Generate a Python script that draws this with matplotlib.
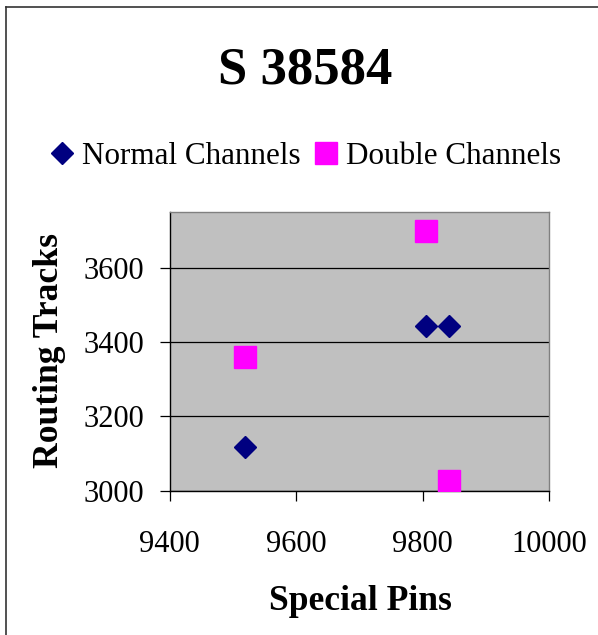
import matplotlib

matplotlib.use("Agg")

import matplotlib.pyplot as plt
from matplotlib.lines import Line2D

# данные
normal_x = [9520, 9805, 9842]
normal_y = [3117, 3444, 3444]
double_x = [9520, 9805, 9842]
double_y = [3361, 3698, 3026]

x_ticks = [9400, 9600, 9800, 10000]
y_ticks = [3000, 3200, 3400, 3600]

title = "S 38584"
x_label = "Special Pins"
y_label = "Routing Tracks"
labels = ["Normal Channels", "Double Channels"]

W, H = 598, 635
plt.rcParams["font.family"] = ["Liberation Serif", "DejaVu Serif"]

fig = plt.figure(figsize=(W / 100, H / 100), dpi=100)
ax = fig.add_axes([169.5 / W, 1 - 490.7 / H, (549 - 169.5) / W, (490.7 - 212) / H])
ax.set_facecolor("#C0C0C0")

ax.plot(normal_x, normal_y, linestyle="none", marker="D", markersize=11.5,
        color="#000080", label=labels[0], zorder=3)
ax.plot(double_x, double_y, linestyle="none", marker="s", markersize=15.5,
        color="#FF00FF", label=labels[1], zorder=3)

ax.set_xlim(9400, 10000)
ax.set_ylim(3000, 3750)
ax.set_xticks(x_ticks)
ax.set_yticks(y_ticks)
ax.yaxis.grid(True, color="black", linewidth=0.9)
ax.set_axisbelow(True)

ax.tick_params(axis="both", direction="out", length=7, width=0.9, labelsize=22)
ax.tick_params(axis="x", pad=21)
ax.tick_params(axis="y", pad=11)

for side in ["left", "bottom"]:
    ax.spines[side].set_color("black")
    ax.spines[side].set_linewidth(1.0)
for side in ["top", "right"]:
    ax.spines[side].set_color("#808080")
    ax.spines[side].set_linewidth(1.0)

fig.text(305 / W, 1 - 71 / H, title,
         fontsize=38, fontweight="bold", ha="center", va="center")
fig.text(360 / W, 1 - 601 / H, x_label, fontsize=25.6, fontweight="bold",
         ha="center", va="center")
fig.text(49 / W, 1 - 351 / H, y_label, fontsize=25.6, fontweight="bold",
         ha="center", va="center", rotation=90)

fig.legend(loc="center", bbox_to_anchor=(306 / W, 1 - 156 / H), ncol=2,
           frameon=False, fontsize=22.4, handlelength=0.7, handletextpad=0.3,
           columnspacing=0.45, markerscale=1.0, borderpad=0, borderaxespad=0)

# рамка диаграммы (видны только левая и верхняя стороны)
fig.add_artist(Line2D([5.5 / W, 5.5 / W], [0, 1 - 6.5 / H], color="#333333", linewidth=1.2))
fig.add_artist(Line2D([5.5 / W, 1], [1 - 6.5 / H, 1 - 6.5 / H], color="#333333", linewidth=1.2))

fig.savefig("out.png", dpi=100)
plt.close(fig)
